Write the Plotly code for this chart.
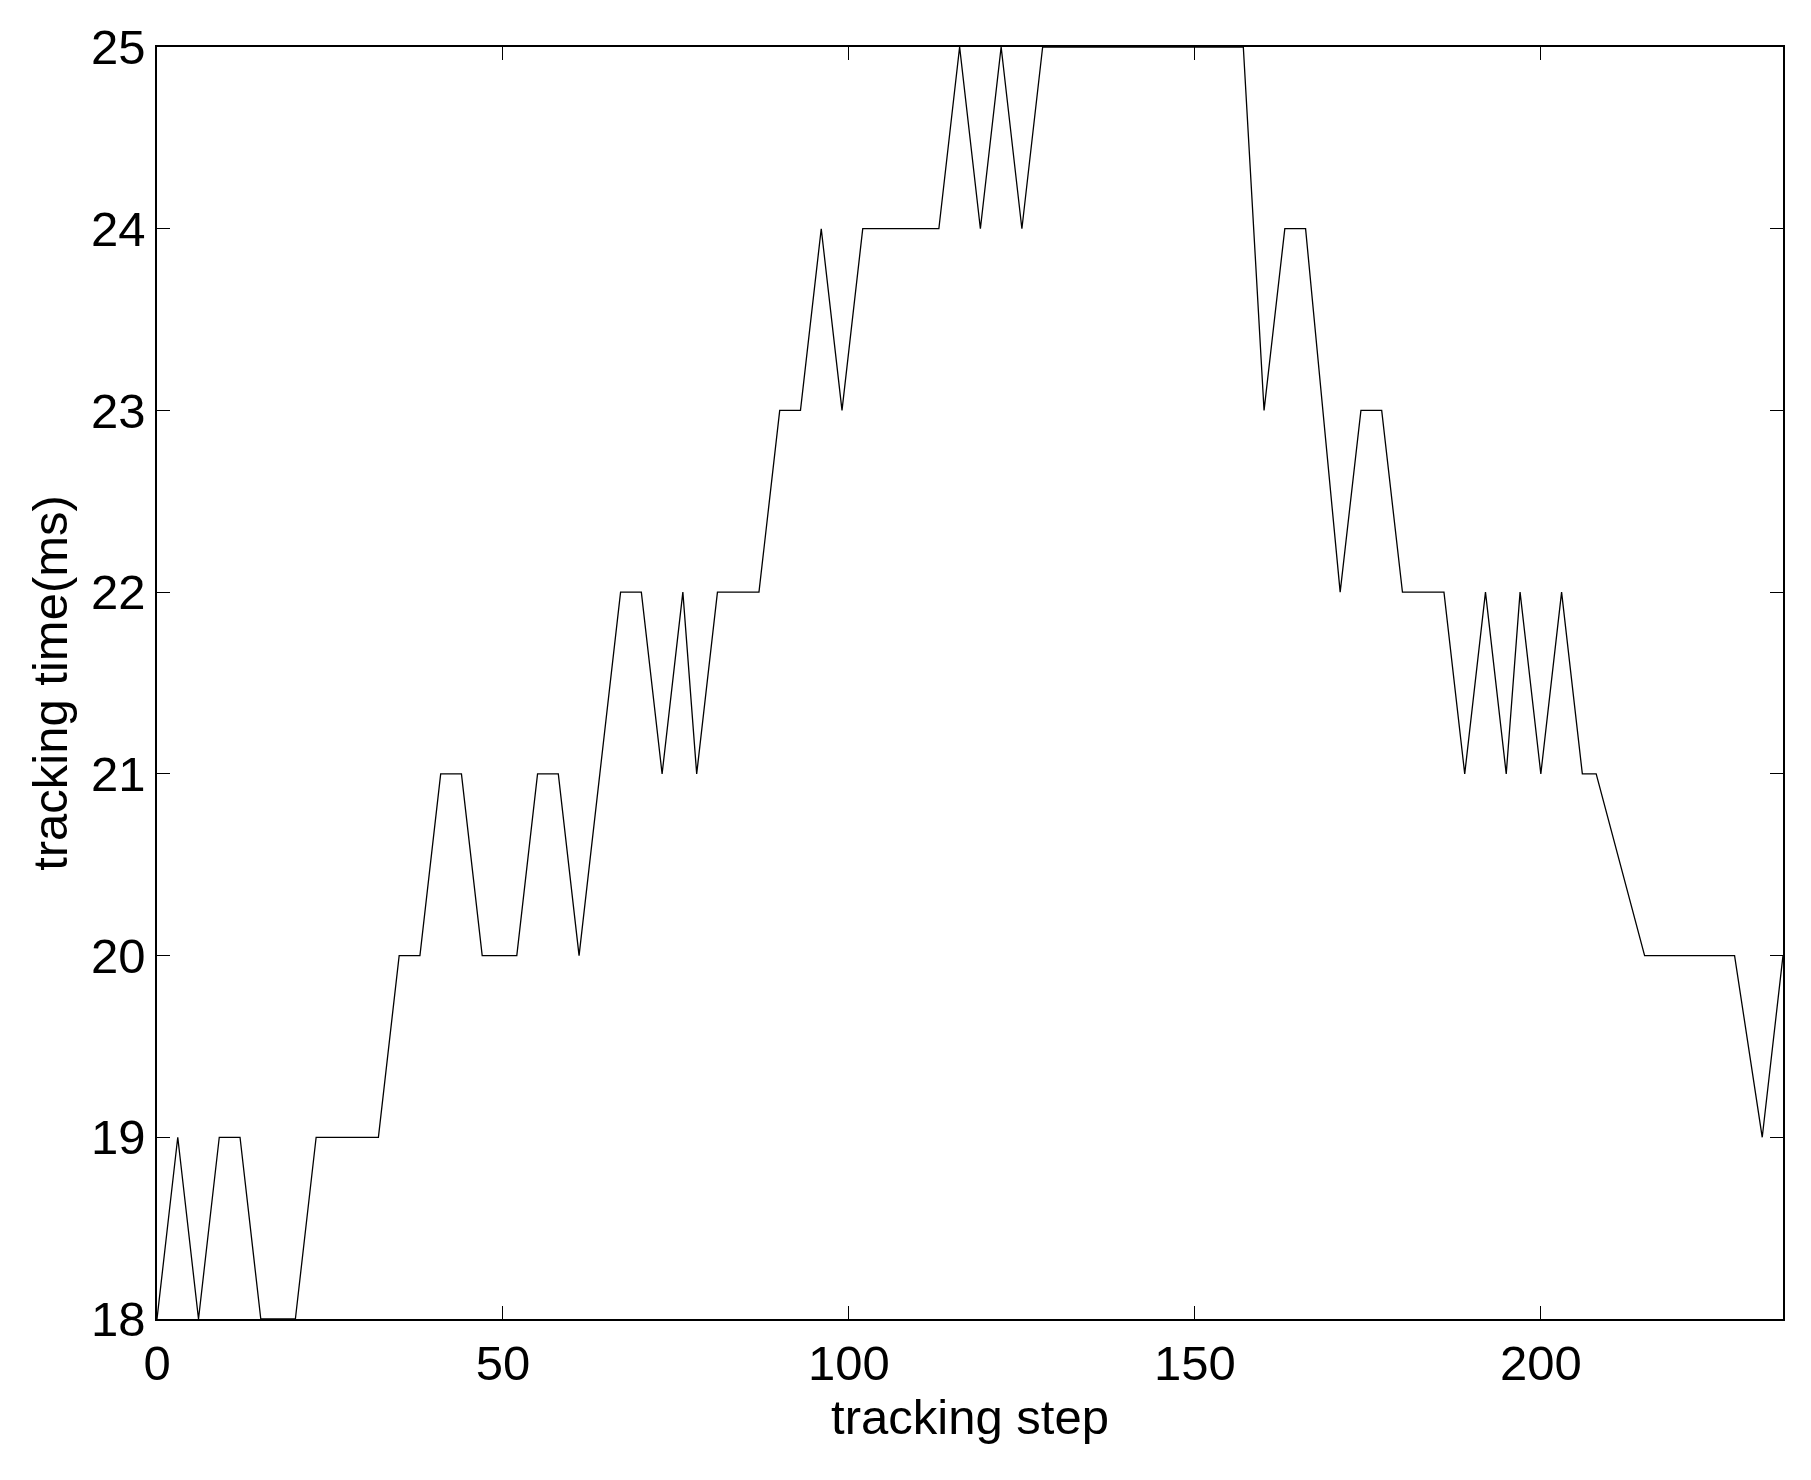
import plotly.graph_objects as go

steps = [0,3,6,9,12,15,20,23,32,35,38,41,44,47,52,55,58,61,64,67,70,73,76,78,81,87,90,93,96,99,102,113,116,119,122,125,128,157,160,163,166,171,174,177,180,186,189,192,195,197,200,203,206,208,215,228,232,235]
times = [18,19,18,19,19,18,18,19,19,20,20,21,21,20,20,21,21,20,21,22,22,21,22,21,22,22,23,23,24,23,24,24,25,24,25,24,25,25,23,24,24,22,23,23,22,22,21,22,21,22,21,22,21,21,20,20,19,20]

fig = go.Figure(go.Scatter(x=steps, y=times, mode="lines", line=dict(color="black", width=1.3), cliponaxis=True))
font = dict(family="Liberation Sans, Arial, sans-serif", size=49, color="black")
ax = dict(showgrid=False, zeroline=False, showline=True, linecolor="black", linewidth=1.5,
          mirror="ticks", ticks="inside", ticklen=13, tickcolor="black", tickfont=font)
fig.update_xaxes(range=[0,235], tickvals=[0,50,100,150,200], title=dict(text="tracking step", font=font, standoff=8), **ax)
fig.update_yaxes(range=[18,25], dtick=1, title=dict(text="tracking time(ms)", font=font, standoff=8), **ax)
fig.update_layout(width=1811, height=1480, plot_bgcolor="white", paper_bgcolor="white",
                  margin=dict(l=149, r=36, t=31, b=169), showlegend=False)
fig.write_html("out.html")
